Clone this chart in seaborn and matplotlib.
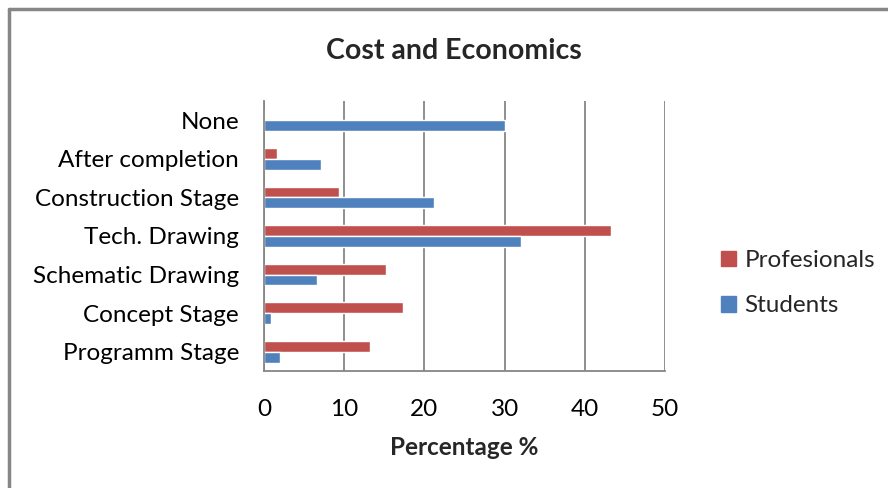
import matplotlib
matplotlib.use("Agg")
import matplotlib.pyplot as plt
import matplotlib.patches as mpatches
from matplotlib.lines import Line2D
import numpy as np
import pandas as pd
import seaborn as sns

# Survey stages (top to bottom) and share of respondents in each group
stages = ["None", "After completion", "Construction Stage", "Tech. Drawing",
          "Schematic Drawing", "Concept Stage", "Programm Stage"]
professionals = [0.0, 1.6, 9.3, 43.3, 15.2, 17.3, 13.2]
students = [30.0, 7.1, 21.2, 32.0, 6.6, 0.9, 2.0]
groups = ["Profesionals", "Students"]
x_ticks = [0, 10, 20, 30, 40, 50]

RED = "#C0504D"
BLUE = "#4F81BD"
GRID = "#868686"
FS = 17.5

df = pd.DataFrame({
    "Stage": stages * 2,
    "Value": professionals + students,
    "Group": [groups[0]] * len(stages) + [groups[1]] * len(stages),
})

sns.set_theme(style="white")
plt.rcParams["font.family"] = ["Lato", "DejaVu Sans"]

fig = plt.figure(figsize=(8.88, 4.88), dpi=100)
ax = fig.add_axes([264 / 888, 1 - 371 / 488, 401 / 888, 270 / 488])

sns.barplot(data=df, y="Stage", x="Value", hue="Group", order=stages,
            hue_order=groups, palette=[RED, BLUE], width=0.56, gap=0,
            orient="h", ax=ax, legend=False, saturation=1)

ax.set_xlim(0, 50)
ax.set_ylim(len(stages) - 0.5, -0.5)
ax.set_xticks(x_ticks)
ax.set_xticklabels([str(t) for t in x_ticks], fontsize=FS)
ax.set_yticks(range(len(stages)))
ax.set_yticklabels(stages, fontsize=FS)
ax.set_yticks(np.arange(-0.5, len(stages)), minor=True)

ax.xaxis.grid(True, color=GRID, linewidth=1.3)
ax.yaxis.grid(False)
ax.set_axisbelow(True)
for side in ("top", "right"):
    ax.spines[side].set_visible(False)
for side in ("left", "bottom"):
    ax.spines[side].set_color(GRID)
    ax.spines[side].set_linewidth(1.3)

ax.tick_params(axis="y", which="major", length=0, pad=18, colors="black")
ax.tick_params(axis="y", which="minor", length=7, width=1.3, color=GRID)
ax.tick_params(axis="x", which="major", length=8, width=1.3, color=GRID,
               pad=12, labelcolor="black")

ax.set_ylabel("")
ax.set_xlabel("Percentage %", fontsize=FS, fontweight="bold", labelpad=12)

fig.text(454 / 888, 1 - 51 / 488, "Cost and Economics",
         ha="center", va="center", fontsize=20.5, fontweight="bold")

handles = [mpatches.Patch(color=RED, label=groups[0]),
           mpatches.Patch(color=BLUE, label=groups[1])]
fig.legend(handles=handles, loc="upper left",
           bbox_to_anchor=(721 / 888, 1 - 250 / 488), frameon=False,
           fontsize=FS, handlelength=0.62, handleheight=0.62,
           handletextpad=0.35, labelspacing=1.0, borderpad=0,
           borderaxespad=0)

# outer chart frame (left and top edges)
fig.add_artist(Line2D([8.5 / 888, 8.5 / 888], [0, 1 - 8.5 / 488],
                      transform=fig.transFigure, color=GRID, linewidth=2.5))
fig.add_artist(Line2D([8.5 / 888, 1], [1 - 8.5 / 488, 1 - 8.5 / 488],
                      transform=fig.transFigure, color=GRID, linewidth=2.5))

fig.savefig("out.png", dpi=100, facecolor="white")
